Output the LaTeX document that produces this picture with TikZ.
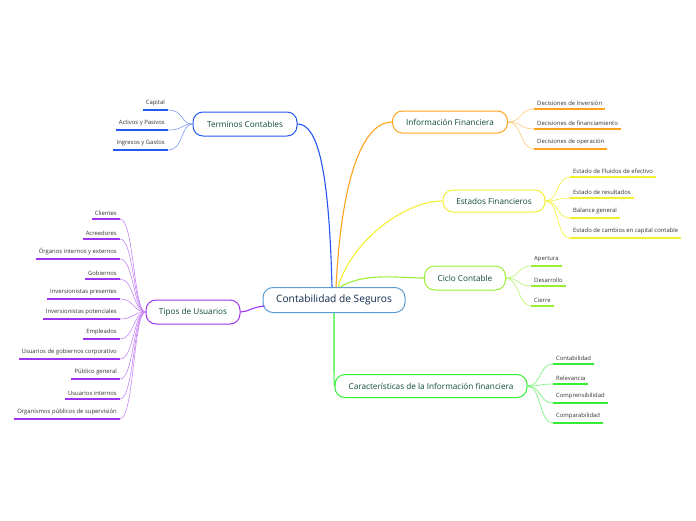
\documentclass[tikz,border=0pt]{standalone}
\usepackage{fontspec}
\setmainfont{Open Sans}
\usetikzlibrary{positioning,calc}
\definecolor{rootline}{HTML}{5B9BD5}
\definecolor{roottext}{HTML}{102A4C}
\definecolor{topictext}{HTML}{0F4A3A}
\definecolor{leaftext}{HTML}{333333}
\definecolor{tcblue}{HTML}{2457F0}
\definecolor{iforange}{HTML}{FFA31A}
\definecolor{efyellow}{HTML}{F2F030}
\definecolor{cclime}{HTML}{99EE33}
\definecolor{cigreen}{HTML}{33EE33}
\definecolor{tupurple}{HTML}{A033F0}

\begin{document}
\begin{tikzpicture}[x=1pt,y=-1pt,
  topic/.style={rectangle,rounded corners=10pt,draw,line width=1pt,fill=white,
    text=topictext,font=\fontsize{8.2}{9}\selectfont},
  leaf/.style={inner xsep=3pt,inner ysep=3.5pt,text=leaftext,font=\fontsize{5.9}{6.5}\selectfont},
  leafline/.style={line width=1.6pt},
  twig/.style={line width=0.6pt},
  branch/.style={line width=1.1pt}]
\useasboundingbox (0,0) rectangle (696,520);

% centro
\node[topic,draw=rootline,text=roottext,minimum width=142pt,minimum height=25pt,
  font=\fontsize{10.2}{11}\selectfont] (root) at (334,300) {Contabilidad de Seguros};

% temas
\node[topic,draw=tcblue,minimum width=104pt,minimum height=24pt] (terminos) at (245,124) {Terminos Contables};
\node[topic,draw=iforange,minimum width=115pt,minimum height=22pt] (infofin) at (450,122) {Información Financiera};
\node[topic,draw=efyellow,minimum width=102pt,minimum height=22pt] (estados) at (494,201) {Estados Financieros};
\node[topic,draw=cclime,minimum width=81pt,minimum height=24pt] (ciclo) at (465,278) {Ciclo Contable};
\node[topic,draw=cigreen,minimum width=192pt,minimum height=23pt] (caract) at (431,386) {Características de la Información financiera};
\node[topic,draw=tupurple,minimum width=94pt,minimum height=24pt] (tipos) at (193,312) {Tipos de Usuarios};

% ramas
\draw[branch,tcblue] ($(root.north)+(-2,0)$) .. controls (329,170) and (318,124) .. (terminos.east);
\draw[branch,iforange] ($(root.north)+(2,0)$) .. controls (342,170) and (365,122) .. (infofin.west);
\draw[branch,efyellow] ($(root.north)+(4,0)$) .. controls (352,240) and (405,201) .. (estados.west);
\draw[branch,cclime] ($(root.north)+(6,0)$) .. controls (365,272) and (400,278) .. (ciclo.west);
\draw[branch,cigreen] (root.south) .. controls (334,380) and (334,386) .. (caract.west);
\draw[branch,tupurple] ($(root.west)+(2,6)$) .. controls (252,307) and (248,312) .. (tipos.east);

% hojas
\foreach \y/\txt/\k in {110/Capital/1,130/Activos y Pasivos/2,150/Ingresos y Gastos/3} {
  \node[leaf,anchor=south east] (tc\k) at (168,\y) {\txt};
  \draw[leafline,tcblue] (tc\k.south west) -- (tc\k.south east);
  \draw[twig,tcblue!60] (tc\k.south east) .. controls +(16,0) and +(-12,0) .. (terminos.west);
}
\foreach \y/\txt/\k in {109/Decisiones de Inversión/1,129/Decisiones de financiamiento/2,149/Decisiones de operación/3} {
  \node[leaf,anchor=south west] (if\k) at (534,\y) {\txt};
  \draw[leafline,iforange] (if\k.south west) -- (if\k.south east);
  \draw[twig,iforange!60] (infofin.east) .. controls +(14,0) and +(-14,0) .. (if\k.south west);
}
\foreach \y/\txt/\k in {177/Estado de Fluidos de efectivo/1,198/Estado de resultados/2,218/Balance general/3,238/Estado de cambios en capital contable/4} {
  \node[leaf,anchor=south west] (ef\k) at (570,\y) {\txt};
  \draw[leafline,efyellow] (ef\k.south west) -- (ef\k.south east);
  \draw[twig,efyellow] (estados.east) .. controls +(14,0) and +(-14,0) .. (ef\k.south west);
}
\foreach \y/\txt/\k in {266/Apertura/1,286/Desarrollo/2,306/Cierre/3} {
  \node[leaf,anchor=south west] (cc\k) at (531,\y) {\txt};
  \draw[leafline,cclime] (cc\k.south west) -- (cc\k.south east);
  \draw[twig,cclime!70] (ciclo.east) .. controls +(13,0) and +(-13,0) .. (cc\k.south west);
}
\foreach \y/\txt/\k in {364/Contabilidad/1,384/Relevancia/2,403/Comprensibilidad/3,423/Comparabilidad/4} {
  \node[leaf,anchor=south west] (ci\k) at (553,\y) {\txt};
  \draw[leafline,cigreen] (ci\k.south west) -- (ci\k.south east);
  \draw[twig,cigreen!70] (caract.east) .. controls +(14,0) and +(-14,0) .. (ci\k.south west);
}
\foreach \y/\txt/\k in {219/Clientes/1,239/Acreedores/2,259/Órganos internos y externos/3,279/Gobiernos/4,
    299/Inversionistas presentes/5,319/Inversionistas potenciales/6,339/Empleados/7,
    359/Usuarios de gobiernos corporativo/8,379/Público general/9,399/Usuarios internos/10,
    419/Organismos públicos de supervisión/11} {
  \node[leaf,anchor=south east] (tu\k) at (120,\y) {\txt};
  \draw[leafline,tupurple] (tu\k.south west) -- (tu\k.south east);
  \draw[twig,tupurple!60] (tu\k.south east) .. controls +(14,0) and +(-12,0) .. (tipos.west);
}
\end{tikzpicture}
\end{document}
